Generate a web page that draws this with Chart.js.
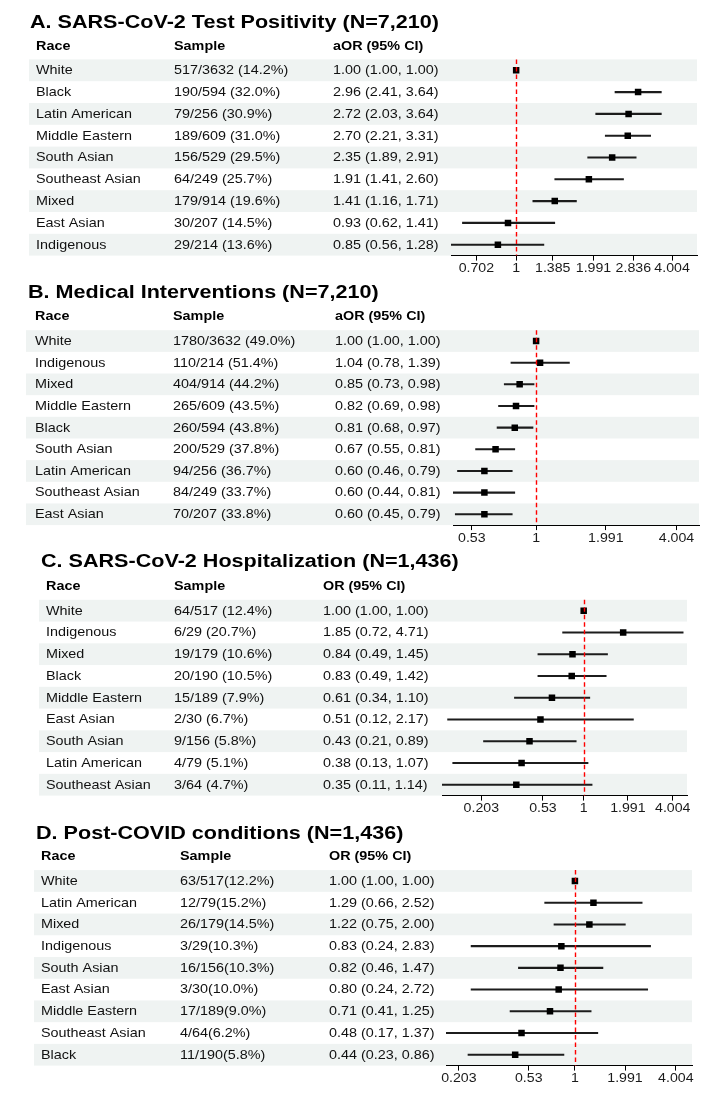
<!DOCTYPE html>
<html>
<head>
<meta charset="utf-8">
<title>Forest plots by race</title>
<script src="https://cdn.jsdelivr.net/npm/chart.js@4.4.1/dist/chart.umd.min.js"></script>
<style>
  html, body { margin: 0; padding: 0; background: #fff; }
  #wrap { position: relative; width: 726px; height: 1108px; overflow: hidden; }
  #wrap canvas { position: absolute; left: 0; }
</style>
</head>
<body>
<div id="wrap">
  <canvas id="panelA" width="726" height="280" style="top:0px"></canvas>
  <canvas id="panelB" width="726" height="268" style="top:280px"></canvas>
  <canvas id="panelC" width="726" height="270" style="top:548px"></canvas>
  <canvas id="panelD" width="726" height="290" style="top:818px"></canvas>
</div>
<script>
// =============================================
// Forest plots - data
// =============================================

// --- A. SARS-CoV-2 Test Positivity ---
const racesA   = ['White', 'Black', 'Latin American', 'Middle Eastern', 'South Asian', 'Southeast Asian', 'Mixed', 'East Asian', 'Indigenous'];
const samplesA = ['517/3632 (14.2%)', '190/594 (32.0%)', '79/256 (30.9%)', '189/609 (31.0%)', '156/529 (29.5%)', '64/249 (25.7%)', '179/914 (19.6%)', '30/207 (14.5%)', '29/214 (13.6%)'];
const orA      = [1.00, 2.96, 2.72, 2.70, 2.35, 1.91, 1.41, 0.93, 0.85];
const lowA     = [1.00, 2.41, 2.03, 2.21, 1.89, 1.41, 1.16, 0.62, 0.56];
const highA    = [1.00, 3.64, 3.64, 3.31, 2.91, 2.60, 1.71, 1.41, 1.28];
const ticksA   = [0.702, 1, 1.385, 1.991, 2.836, 4.004];
const tickLabelsA = ['0.702', '1', '1.385', '1.991', '2.836', '4.004'];

// --- B. Medical Interventions ---
const racesB   = ['White', 'Indigenous', 'Mixed', 'Middle Eastern', 'Black', 'South Asian', 'Latin American', 'Southeast Asian', 'East Asian'];
const samplesB = ['1780/3632 (49.0%)', '110/214 (51.4%)', '404/914 (44.2%)', '265/609 (43.5%)', '260/594 (43.8%)', '200/529 (37.8%)', '94/256 (36.7%)', '84/249 (33.7%)', '70/207 (33.8%)'];
const orB      = [1.00, 1.04, 0.85, 0.82, 0.81, 0.67, 0.60, 0.60, 0.60];
const lowB     = [1.00, 0.78, 0.73, 0.69, 0.68, 0.55, 0.46, 0.44, 0.45];
const highB    = [1.00, 1.39, 0.98, 0.98, 0.97, 0.81, 0.79, 0.81, 0.79];
const ticksB   = [0.53, 1, 1.991, 4.004];
const tickLabelsB = ['0.53', '1', '1.991', '4.004'];

// --- C. SARS-CoV-2 Hospitalization ---
const racesC   = ['White', 'Indigenous', 'Mixed', 'Black', 'Middle Eastern', 'East Asian', 'South Asian', 'Latin American', 'Southeast Asian'];
const samplesC = ['64/517 (12.4%)', '6/29 (20.7%)', '19/179 (10.6%)', '20/190 (10.5%)', '15/189 (7.9%)', '2/30 (6.7%)', '9/156 (5.8%)', '4/79 (5.1%)', '3/64 (4.7%)'];
const orC      = [1.00, 1.85, 0.84, 0.83, 0.61, 0.51, 0.43, 0.38, 0.35];
const lowC     = [1.00, 0.72, 0.49, 0.49, 0.34, 0.12, 0.21, 0.13, 0.11];
const highC    = [1.00, 4.71, 1.45, 1.42, 1.10, 2.17, 0.89, 1.07, 1.14];
const ticksC   = [0.203, 0.53, 1, 1.991, 4.004];
const tickLabelsC = ['0.203', '0.53', '1', '1.991', '4.004'];

// --- D. Post-COVID conditions ---
const racesD   = ['White', 'Latin American', 'Mixed', 'Indigenous', 'South Asian', 'East Asian', 'Middle Eastern', 'Southeast Asian', 'Black'];
const samplesD = ['63/517(12.2%)', '12/79(15.2%)', '26/179(14.5%)', '3/29(10.3%)', '16/156(10.3%)', '3/30(10.0%)', '17/189(9.0%)', '4/64(6.2%)', '11/190(5.8%)'];
const orD      = [1.00, 1.29, 1.22, 0.83, 0.82, 0.80, 0.71, 0.48, 0.44];
const lowD     = [1.00, 0.66, 0.75, 0.24, 0.46, 0.24, 0.41, 0.17, 0.23];
const highD    = [1.00, 2.52, 2.00, 2.83, 1.47, 2.72, 1.25, 1.37, 0.86];
const ticksD   = [0.203, 0.53, 1, 1.991, 4.004];
const tickLabelsD = ['0.203', '0.53', '1', '1.991', '4.004'];

const axisMax = 5;

// =============================================
// Drawing helpers
// =============================================
const FONT = '"Liberation Sans", Arial, Helvetica, sans-serif';
const bandColor = '#eff3f2';
const SX = 1.18;   // the source figure is stretched sideways, so is its text

function stretchedText(c, text, x, y, font, align) {
    c.save();
    c.font = font;
    c.textAlign = align || 'left';
    c.textBaseline = 'middle';
    c.translate(x, y);
    c.scale(SX, 1);
    c.fillText(text, 0, 0);
    c.restore();
}

function drawTable(chart, p) {
    const c = chart.ctx;
    const area = chart.chartArea;
    const yS = chart.scales.y;
    const n = p.races.length;
    const step = (area.bottom - area.top) / n;
    const off = p.top;

    c.save();
    // alternating row bands
    c.fillStyle = bandColor;
    for (let i = 0; i < n; i += 2) {
        const cy = yS.getPixelForValue(i);
        c.fillRect(p.bandX0, cy - step / 2, area.right - p.bandX0, step);
    }

    // title + header
    c.fillStyle = '#000';
    stretchedText(c, p.title, p.titleX, p.titleY - off, 'bold 18.3px ' + FONT);
    const hf = 'bold 12.2px ' + FONT;
    stretchedText(c, 'Race', p.cols[0], p.headerY - off, hf);
    stretchedText(c, 'Sample', p.cols[1], p.headerY - off, hf);
    stretchedText(c, p.orHeader, p.cols[2], p.headerY - off, hf);

    // rows
    const bf = '12.2px ' + FONT;
    c.fillStyle = '#111';
    for (let i = 0; i < n; i++) {
        const cy = yS.getPixelForValue(i) + 0.5;
        const ci = p.or[i].toFixed(2) + ' (' + p.low[i].toFixed(2) + ', ' + p.high[i].toFixed(2) + ')';
        stretchedText(c, p.races[i], p.cols[0], cy, bf);
        stretchedText(c, p.samples[i], p.cols[1], cy, bf);
        stretchedText(c, ci, p.cols[2], cy, bf);
    }
    c.restore();
}

function drawOverlay(chart, p) {
    const c = chart.ctx;
    const area = chart.chartArea;
    const xS = chart.scales.x;
    const x = Math.round(xS.getPixelForValue(1)) + 0.5;

    // reference line at OR = 1
    c.save();
    c.strokeStyle = '#ff0000';
    c.lineWidth = 1.4;
    c.setLineDash([4.5, 3]);
    c.beginPath();
    c.moveTo(x, area.top);
    c.lineTo(x, area.bottom);
    c.stroke();
    c.restore();

    // tick labels, placed with the x scale
    c.save();
    c.fillStyle = '#1a1a1a';
    xS.ticks.forEach((t, i) => {
        stretchedText(c, p.tickLabels[i], xS.getPixelForValue(t.value), area.bottom + 13.5, '12px ' + FONT, 'center');
    });
    c.restore();
}

function createPanel(p) {
    const canvas = document.getElementById(p.id);
    const axisH = 30;
    const padTop = p.areaTop - p.top;
    const padBottom = canvas.height - (p.areaBottom - p.top) - axisH;

    return new Chart(canvas, {
        type: 'bar',
        data: {
            labels: p.races,
            datasets: [{
                type: 'bar',
                data: p.low.map((l, i) => [l, p.high[i]]),
                backgroundColor: '#1c1c1c',
                barThickness: 1.4,
                borderWidth: 0,
                order: 2
            }, {
                type: 'scatter',
                data: p.or.map((v, i) => ({ x: v, y: p.races[i] })),
                pointStyle: 'rect',
                pointRadius: 4.6,
                backgroundColor: '#000',
                borderWidth: 0,
                order: 1
            }]
        },
        options: {
            indexAxis: 'y',
            responsive: false,
            animation: false,
            events: [],
            layout: { padding: { top: padTop, bottom: padBottom, left: p.plotL, right: 726 - p.plotR } },
            plugins: { legend: { display: false }, tooltip: { enabled: false } },
            scales: {
                y: { type: 'category', display: false, offset: true },
                x: {
                    type: 'logarithmic',
                    bounds: 'data',
                    min: Math.min(...p.low),
                    max: axisMax,
                    afterBuildTicks: s => { s.ticks = p.ticks.map(v => ({ value: v })); },
                    afterFit: s => { s.height = axisH; },
                    ticks: { display: false, autoSkip: false },
                    grid: { drawOnChartArea: false, drawTicks: true, tickLength: 5, color: '#000', lineWidth: 1 },
                    border: { display: true, color: '#000', width: 1 }
                }
            }
        },
        plugins: [{
            id: 'forestTable',
            beforeDraw: chart => drawTable(chart, p),
            afterDatasetsDraw: chart => drawOverlay(chart, p)
        }]
    });
}

// ====================== Build the four panels ======================

createPanel({
    id: 'panelA', top: 0, title: 'A. SARS-CoV-2 Test Positivity (N=7,210)', orHeader: 'aOR (95% CI)',
    races: racesA, samples: samplesA, or: orA, low: lowA, high: highA, ticks: ticksA, tickLabels: tickLabelsA,
    titleX: 30, titleY: 23, headerY: 46.7, cols: [36, 174, 333], bandX0: 29,
    plotL: 451, plotR: 697, areaTop: 59.4, areaBottom: 255.6
});

createPanel({
    id: 'panelB', top: 280, title: 'B. Medical Interventions (N=7,210)', orHeader: 'aOR (95% CI)',
    races: racesB, samples: samplesB, or: orB, low: lowB, high: highB, ticks: ticksB, tickLabels: tickLabelsB,
    titleX: 28, titleY: 293, headerY: 316.7, cols: [35, 173, 335], bandX0: 26,
    plotL: 453, plotR: 699, areaTop: 330.2, areaBottom: 525.1
});

createPanel({
    id: 'panelC', top: 548, title: 'C. SARS-CoV-2 Hospitalization (N=1,436)', orHeader: 'OR (95% CI)',
    races: racesC, samples: samplesC, or: orC, low: lowC, high: highC, ticks: ticksC, tickLabels: tickLabelsC,
    titleX: 41, titleY: 562, headerY: 586.7, cols: [46, 174, 323], bandX0: 39,
    plotL: 442, plotR: 687, areaTop: 599.8, areaBottom: 795.6
});

createPanel({
    id: 'panelD', top: 818, title: 'D. Post-COVID conditions (N=1,436)', orHeader: 'OR (95% CI)',
    races: racesD, samples: samplesD, or: orD, low: lowD, high: highD, ticks: ticksD, tickLabels: tickLabelsD,
    titleX: 36, titleY: 834, headerY: 856.7, cols: [41, 180, 329], bandX0: 34,
    plotL: 446, plotR: 692, areaTop: 870.1, areaBottom: 1065.6
});
</script>
</body>
</html>
